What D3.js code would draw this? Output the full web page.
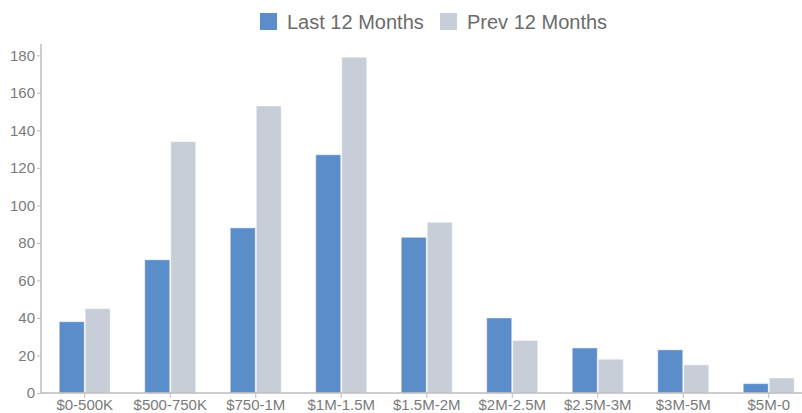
<!DOCTYPE html>
<html>
<head>
<meta charset="utf-8">
<script src="https://cdn.jsdelivr.net/npm/d3@7"></script>
<style>
  body { margin: 0; background: #fff; }
  svg text { font-family: "Liberation Sans", Arial, Helvetica, sans-serif; }
</style>
</head>
<body>
<svg id="chart" width="802" height="413"></svg>
<script>
// price bands
var categories = ["$0-500K", "$500-750K", "$750-1M", "$1M-1.5M", "$1.5M-2M", "$2M-2.5M", "$2.5M-3M", "$3M-5M", "$5M-0"];
var last12 = [38, 71, 88, 127, 83, 40, 24, 23, 5];
var prev12 = [45, 134, 153, 179, 91, 28, 18, 15, 8];
var seriesNames = ["Last 12 Months", "Prev 12 Months"];
var yTicks = [0, 20, 40, 60, 80, 100, 120, 140, 160, 180];

var colors = ["#5a8dc9", "#c8ced8"];
var width = 802, height = 413;
var margin = { top: 42, left: 41, bottom: 20, right: 0 };
var plot_bottom = height - margin.bottom;

var svg = d3.select("#chart");

var xScale = d3.scaleBand().domain(categories).range([margin.left + 1, margin.left + 1 + 9 * 85.5]).paddingInner(0).paddingOuter(0);
var yScale = d3.scaleLinear().domain([0, 180]).range([plot_bottom, plot_bottom - 180 * 1.876]);
var yTop = yScale(186);

//---------------------------------------------------------------- bars
var bar_w = 26;
var series = [last12, prev12];
series.forEach(function (vals, s) {
  svg.append("g").selectAll("rect").data(vals).join("rect")
    .attr("x", (d, i) => xScale(categories[i]) + xScale.bandwidth() / 2 + (s == 0 ? -bar_w : 0) + 0.5)
    .attr("width", bar_w - 1)
    .attr("y", d => yScale(d))
    .attr("height", d => plot_bottom - yScale(d))
    .attr("fill", colors[s])
    .attr("stroke", "#ffffff").attr("stroke-opacity", 0.45).attr("stroke-width", 1);
});

//---------------------------------------------------------------- axes
var axisColor = "#bdbdbd", textColor = "#7a7a7a";
var yAxis = svg.append("g").attr("transform", "translate(" + margin.left + ",0)")
  .call(d3.axisLeft(yScale).tickValues(yTicks).tickSize(4).tickPadding(2));
yAxis.select(".domain").attr("d", "M0," + yTop + "V" + plot_bottom);
var xAxis = svg.append("g").attr("transform", "translate(0," + plot_bottom + ")")
  .call(d3.axisBottom(xScale).tickSize(5).tickPadding(1));
xAxis.select(".domain").attr("d", "M" + margin.left + ",0H" + width);
[yAxis, xAxis].forEach(function (ax) {
  ax.selectAll(".domain").attr("stroke", axisColor).attr("stroke-width", 1.5);
  ax.selectAll(".tick line").attr("stroke", axisColor);
  ax.selectAll("text").attr("fill", textColor).attr("font-size", 15)
    .attr("font-family", "'Liberation Sans', Arial, Helvetica, sans-serif");
});

//---------------------------------------------------------------- legend
var legend_x = [260, 440];
var legend = svg.append("g").selectAll("g").data(seriesNames).join("g")
  .attr("transform", (d, i) => "translate(" + legend_x[i] + ",13)");
legend.append("rect").attr("width", 17).attr("height", 17).attr("fill", (d, i) => colors[i]);
legend.append("text").attr("x", 27).attr("y", 16).attr("font-size", 20).attr("fill", "#6b6b6b").text(d => d);
</script>
</body>
</html>
